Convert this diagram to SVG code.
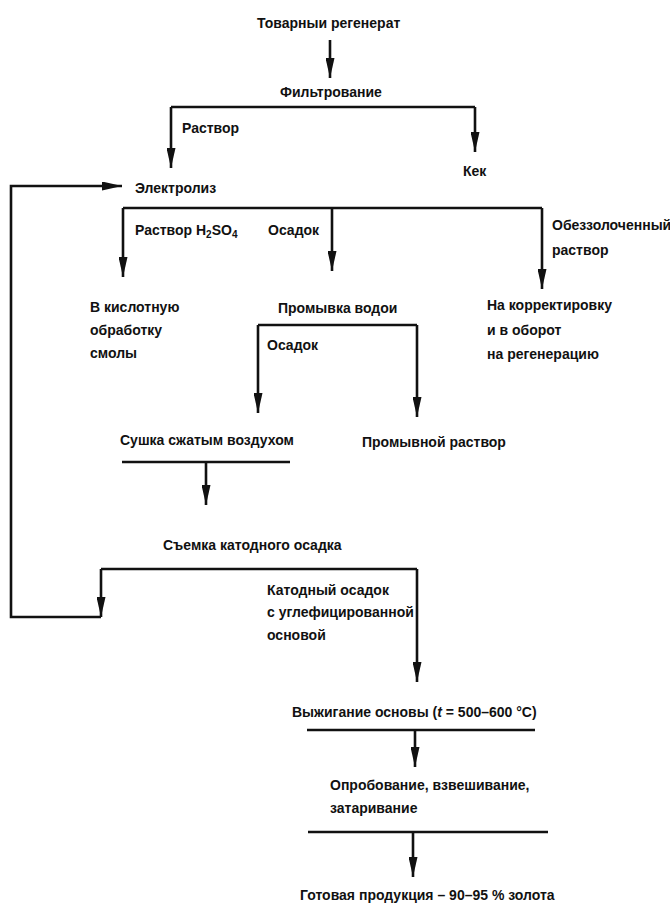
<svg xmlns="http://www.w3.org/2000/svg" width="670" height="904" viewBox="0 0 670 904">
<style>
text{font-family:"Liberation Sans",Arial,sans-serif;font-size:14px;font-weight:bold;fill:#111}
.ln{fill:none;stroke:#111;stroke-width:2.6}
.ar{fill:none;stroke:#111;stroke-width:2.6;marker-end:url(#ah)}
</style>
<defs>
<marker id="ah" viewBox="0 0 20 9" refX="20" refY="4.5" markerWidth="20" markerHeight="9" markerUnits="userSpaceOnUse" orient="auto">
<path d="M0,0 L20,4.5 L0,9 z" fill="#111"/>
</marker>
</defs>
<rect width="670" height="904" fill="#fff"/>
<g id="connectors">
<path class="ar" d="M330,40 V78"/>
<path class="ar" d="M171,107 V168"/>
<path class="ln" d="M171,107 H475"/>
<path class="ar" d="M475,107 V152"/>
<path class="ar" d="M123,208 V277"/>
<path class="ln" d="M123,208 H542"/>
<path class="ar" d="M332,208 V271"/>
<path class="ar" d="M542,208 V289"/>
<path class="ar" d="M258,325 V413"/>
<path class="ln" d="M258,325 H417"/>
<path class="ar" d="M417,325 V417"/>
<path class="ln" d="M122,462 H290"/>
<path class="ar" d="M206,462 V505"/>
<path class="ln" d="M101,569 H417"/>
<path class="ar" d="M101,569 V617"/>
<path class="ar" d="M101,617 H11 V186 H122"/>
<path class="ar" d="M417,569 V682"/>
<path class="ln" d="M307,730 H535"/>
<path class="ar" d="M415,730 V767"/>
<path class="ln" d="M308,832 H548"/>
<path class="ar" d="M413,832 V877"/>
</g>
<g id="n-regenerat"><text x="257" y="28">Товарныи регенерат</text></g>
<g id="n-filtr"><text x="280" y="97">Фильтрование</text></g>
<g id="l-rastvor1"><text x="182" y="133">Раствор</text></g>
<g id="n-kek"><text x="463" y="176">Кек</text></g>
<g id="n-electroliz"><text x="135" y="193">Электролиз</text></g>
<g id="l-h2so4"><text x="135" y="235">Раствор H<tspan font-size="10" dy="3">2</tspan><tspan dy="-3">SO</tspan><tspan font-size="10" dy="3">4</tspan></text></g>
<g id="l-osadok1"><text x="268" y="235">Осадок</text></g>
<g id="l-obezz"><text x="552" y="230">Обеззолоченный</text><text x="552" y="255">раствор</text></g>
<g id="n-kislot"><text x="90" y="312">В кислотную</text><text x="90" y="335">обработку</text><text x="90" y="358">смолы</text></g>
<g id="n-promyvka"><text x="278" y="313">Промывка водои</text></g>
<g id="n-korrekt"><text x="487" y="310">На корректировку</text><text x="487" y="335">и в оборот</text><text x="487" y="359">на регенерацию</text></g>
<g id="l-osadok2"><text x="267" y="350">Осадок</text></g>
<g id="n-sushka"><text x="120" y="445">Сушка сжатым воздухом</text></g>
<g id="n-promyvnoi"><text x="362" y="447">Промывной раствор</text></g>
<g id="n-semka"><text x="163" y="550">Съемка катодного осадка</text></g>
<g id="l-katod"><text x="267" y="595">Катодный осадок</text><text x="267" y="617">с углефицированной</text><text x="267" y="640">основой</text></g>
<g id="n-vyzhig"><text x="292" y="717">Выжигание основы (<tspan font-style="italic">t</tspan> = 500–600 °C)</text></g>
<g id="n-oprob"><text x="330" y="790">Опробование, взвешивание,</text><text x="330" y="813">затаривание</text></g>
<g id="n-gotov"><text x="300" y="900">Готовая продукция – 90–95 % золота</text></g>
</svg>
